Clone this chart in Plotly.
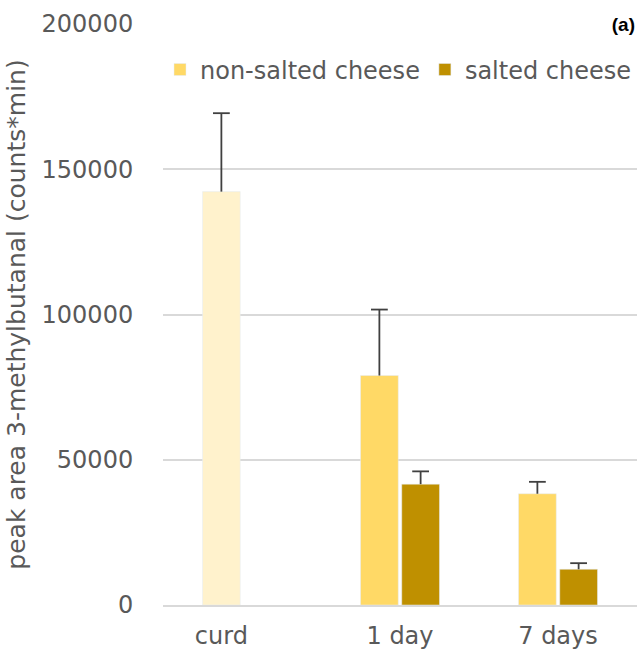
import plotly.graph_objects as go

categories = ["curd", "1 day", "7 days"]
curd_value = [142300]
curd_err = [27000]
ns_categories = ["1 day", "7 days"]
ns_values = [79000, 38300]
ns_err = [22700, 4100]
s_categories = ["1 day", "7 days"]
s_values = [41600, 12300]
s_err = [4400, 2100]
y_ticks = [0, 50000, 100000, 150000, 200000]

FONT = "DejaVu Sans"
TXT = "#595959"
GRID = "#d9d9d9"
ERR = "#404040"
bargap = 0.478
bargroupgap = 0.085

fig = go.Figure()
fig.add_trace(go.Bar(x=["curd"], y=curd_value, name="curd", marker_color="#FFF2CC",
                     offsetgroup="ns", showlegend=False))
fig.add_trace(go.Bar(x=ns_categories, y=ns_values, name="non-salted cheese", marker_color="#FFD966",
                     offsetgroup="ns"))
fig.add_trace(go.Bar(x=s_categories, y=s_values, name="salted cheese", marker_color="#BF9000",
                     offsetgroup="s"))


def whisker(xs, vals, errs, group):
    tops = [v + e for v, e in zip(vals, errs)]
    return go.Scatter(x=xs, y=tops, mode="markers", offsetgroup=group, showlegend=False,
                      hoverinfo="skip",
                      marker=dict(symbol="line-ew", size=12, line=dict(color=ERR, width=1.8)),
                      error_y=dict(type="data", array=[0] * len(vals), arrayminus=errs,
                                   symmetric=False, color=ERR, thickness=1.8, width=0))


fig.add_trace(whisker(["curd"], curd_value, curd_err, "ns"))
fig.add_trace(whisker(ns_categories, ns_values, ns_err, "ns"))
fig.add_trace(whisker(s_categories, s_values, s_err, "s"))

# curd only has the non-salted slot: centre its label on that slot
slot = (1 - bargap) / 4
tickvals = [0 - slot, 1, 2]

fig.update_layout(
    width=638, height=653,
    margin=dict(l=163, r=1, t=24, b=48),
    paper_bgcolor="white", plot_bgcolor="white",
    barmode="group", bargap=bargap, bargroupgap=bargroupgap,
    scattermode="group", scattergap=bargap,
    font=dict(family=FONT, size=24, color=TXT),
    xaxis=dict(type="category", categoryorder="array", categoryarray=categories,
               tickmode="array", tickvals=tickvals, ticktext=categories, automargin=False,
               range=[-0.5, 2.5], showgrid=False, showline=True, linecolor=GRID, linewidth=1.5,
               ticks="outside", ticklen=8, tickcolor="rgba(0,0,0,0)",
               tickfont=dict(family=FONT, size=24, color=TXT)),
    yaxis=dict(range=[0, 200000], tickmode="array", tickvals=y_ticks, automargin=False,
               ticktext=[str(v) for v in y_ticks],
               showgrid=True, gridcolor=GRID, gridwidth=1.5, zeroline=False,
               ticks="outside", ticklen=24, tickcolor="rgba(0,0,0,0)",
               tickfont=dict(family=FONT, size=24, color=TXT),
               title=dict(text="peak area 3-methylbutanal (counts*min)",
                          font=dict(family=FONT, size=25, color=TXT), standoff=8)),
    legend=dict(orientation="h", x=1.0, xanchor="right", y=0.921, yanchor="middle",
                font=dict(family=FONT, size=24, color=TXT), bgcolor="rgba(0,0,0,0)",
                itemwidth=30, traceorder="normal"),
    annotations=[dict(text="<b>(a)</b>", xref="paper", yref="paper", x=1.0, y=1.0,
                      xanchor="right", yanchor="middle", showarrow=False, bgcolor="white",
                      font=dict(family="Liberation Sans", size=19, color="#000000"),
                      width=48, align="right")],
)

fig.write_html("out.html")
